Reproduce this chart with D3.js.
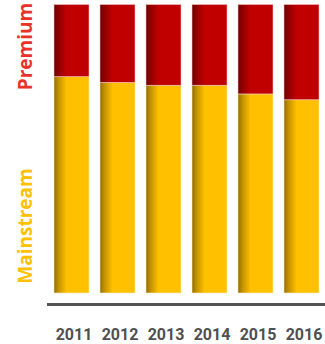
<!DOCTYPE html>
<html><head><meta charset="utf-8">
<script src="https://cdn.jsdelivr.net/npm/d3@7"></script>
<style>html,body{margin:0;padding:0;background:#fff;}svg{display:block;}</style>
</head><body>
<svg id="chart" width="325" height="344"></svg>
<script>
const years = ["2011","2012","2013","2014","2015","2016"];
const mainstream = [75, 73, 72, 72, 69, 67];
const premium = [25, 27, 28, 28, 31, 33];
const seriesNames = ["Mainstream", "Premium"];
const seriesColors = ["#ffc000", "#c00000"];
const labelColors = ["#ffc000", "#e8322a"];

const svg = d3.select("#chart");
const x = d3.scaleBand().domain(years).range([48.5, 324.5]).paddingInner(0.239).paddingOuter(0.1195);
const y = d3.scaleLinear().domain([0, 100]).range([293, 4.5]);

const defs = svg.append("defs");
seriesColors.forEach((c, i) => {
  const g = defs.append("linearGradient").attr("id", "grad" + i)
    .attr("x1", "0").attr("x2", "1").attr("y1", "0").attr("y2", "0");
  g.append("stop").attr("offset", "0").attr("stop-color", d3.color(c).darker(1.6));
  g.append("stop").attr("offset", "0.12").attr("stop-color", d3.color(c).darker(0.8));
  g.append("stop").attr("offset", "0.36").attr("stop-color", c);
  g.append("stop").attr("offset", "1").attr("stop-color", c);
});

const data = years.map((yr, i) => ({ year: yr, Mainstream: mainstream[i], Premium: premium[i] }));
const stack = d3.stack().keys(seriesNames)(data);

stack.forEach((layer, li) => {
  svg.append("g").selectAll("rect").data(layer).join("rect")
    .attr("x", d => x(d.data.year))
    .attr("width", x.bandwidth())
    .attr("y", d => y(d[1]))
    .attr("height", d => y(d[0]) - y(d[1]))
    .attr("fill", "url(#grad" + li + ")")
    .attr("stroke", li === 1 ? "#f4c8c8" : "#fff0c0")
    .attr("stroke-opacity", 0.7)
    .attr("stroke-width", 0.8);
});

// baseline axis
svg.append("line").attr("x1", 47).attr("x2", 325).attr("y1", 304.5).attr("y2", 304.5)
  .attr("stroke", "#555").attr("stroke-width", 3);

// year labels
svg.append("g").selectAll("text").data(years).join("text")
  .attr("x", d => x(d) + x.bandwidth() / 2 + 2.5)
  .attr("y", 340)
  .attr("text-anchor", "middle")
  .attr("font-family", "Roboto, 'Liberation Sans', sans-serif")
  .attr("font-weight", "bold")
  .attr("font-size", 16)
  .attr("fill", "#505050")
  .text(d => d);

// series side labels
const sideLabels = [
  { name: "Mainstream", cy: 226, color: labelColors[0] },
  { name: "Premium", cy: 46.5, color: labelColors[1] }
];
svg.append("g").selectAll("text").data(sideLabels).join("text")
  .attr("transform", d => `translate(32,${d.cy}) rotate(-90)`)
  .attr("text-anchor", "middle")
  .attr("font-family", "'Open Sans', sans-serif")
  .attr("font-weight", "bold")
  .attr("font-size", 19)
  .attr("fill", d => d.color)
  .text(d => d.name);
</script>
</body></html>
